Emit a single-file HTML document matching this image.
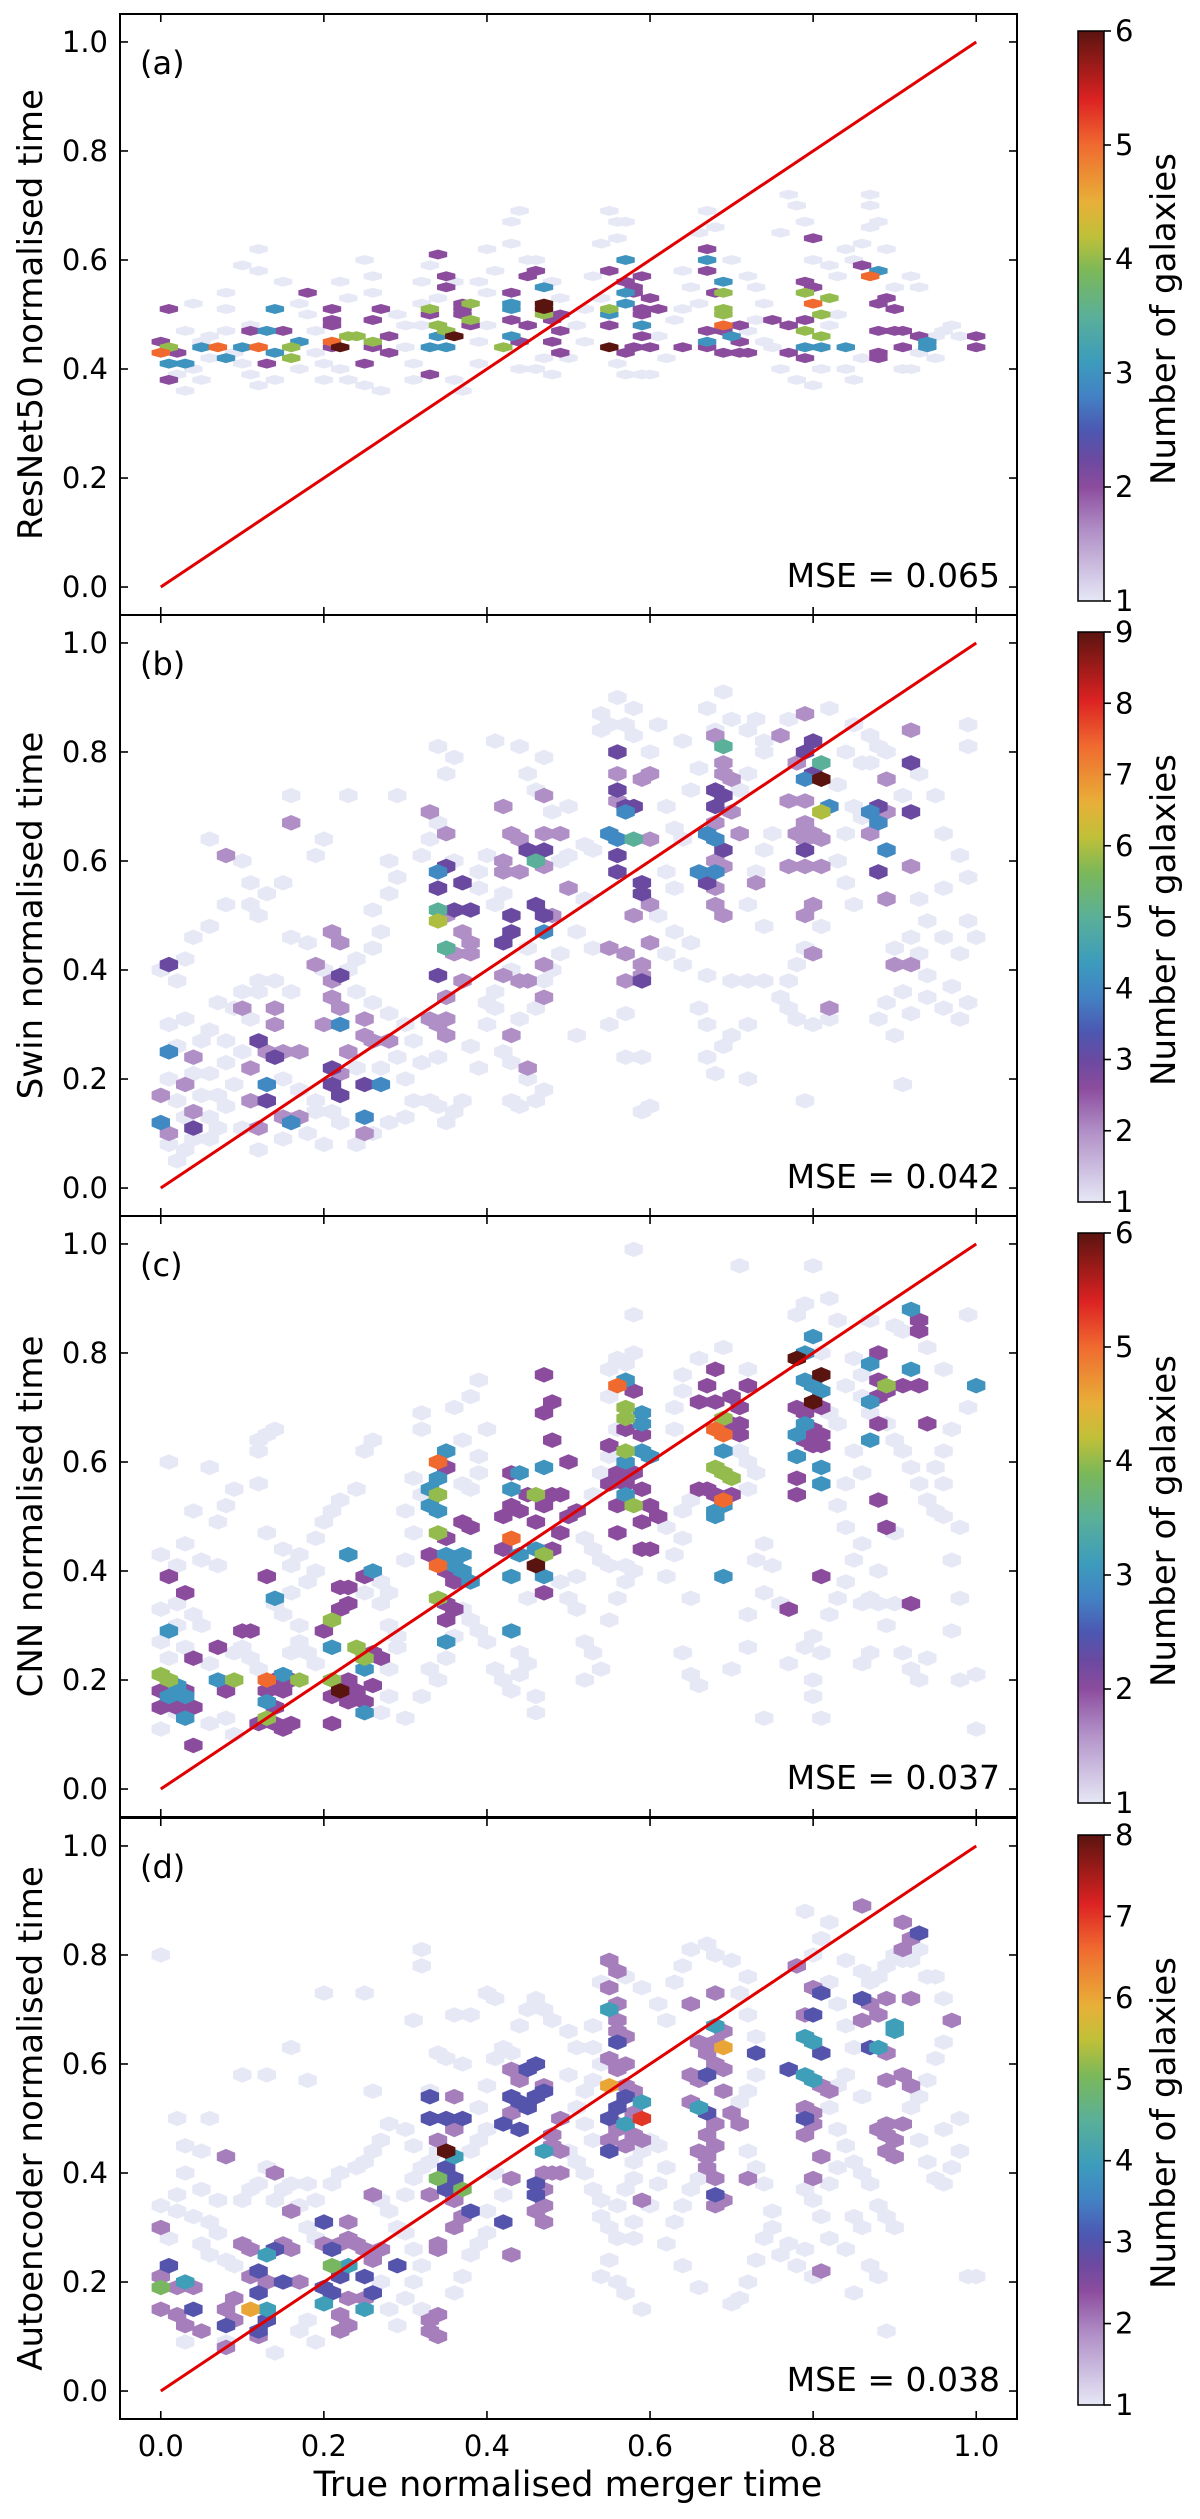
<!DOCTYPE html>
<html><head><meta charset="utf-8"><style>
html,body{margin:0;padding:0;background:#fff;}
svg{display:block;}
text{font-family:"DejaVu Sans","Liberation Sans",sans-serif;fill:#000;}
</style></head><body>
<svg id="fig" width="1200" height="2519" viewBox="0 0 1200 2519" xmlns="http://www.w3.org/2000/svg">
<defs>
<linearGradient id="cmap" x1="0" y1="1" x2="0" y2="0">
<stop offset="0" stop-color="#e6e8f6"/><stop offset="0.125" stop-color="#b08ec6"/><stop offset="0.2" stop-color="#8c4c9e"/>
<stop offset="0.25" stop-color="#6a4aa0"/><stop offset="0.3" stop-color="#4c58b2"/><stop offset="0.36" stop-color="#4282c4"/>
<stop offset="0.42" stop-color="#3c9cbc"/><stop offset="0.5" stop-color="#5ab098"/><stop offset="0.58" stop-color="#7cb858"/>
<stop offset="0.64" stop-color="#c0c038"/><stop offset="0.7" stop-color="#e8b038"/><stop offset="0.8" stop-color="#f06a30"/>
<stop offset="0.88" stop-color="#dc2222"/><stop offset="1" stop-color="#5a1410"/>
</linearGradient>
</defs>
</svg>
<script>
// ---- data ----
const panelLetters = ["(a)","(b)","(c)","(d)"];
const yLabels = ["ResNet50 normalised time","Swin normalised time","CNN normalised time","Autoencoder normalised time"];
const mseLabels = ["MSE = 0.065","MSE = 0.042","MSE = 0.037","MSE = 0.038"];
const cbarMax = [6,9,6,8];
const xTicks = [0,0.2,0.4,0.6,0.8,1.0];
const xTickLabels = ["0.0","0.2","0.4","0.6","0.8","1.0"];
const yTicks = [0,0.2,0.4,0.6,0.8,1.0];
const yTickLabels = ["0.0","0.2","0.4","0.6","0.8","1.0"];

// hex cells: "x,y,count" (count omitted = 1)
const hexA = `0.01,.51,2 0,.45,2 0,.43,5 .01,.44,4 .01,.41,3 .03,.41,3 .01,.38,2 .02,.43,2 .05,.44,3 .07,.44,5 .08,.42,3
.10,.44,3 .11,.47,2 .12,.44,5 .13,.47,3 .14,.51,3 .15,.47,2 .16,.44,4 .14,.43,3 .13,.41,2 .17,.45,3 .16,.42,4 .18,.54,2
.21,.51,2 .21,.49,2 .21,.48,2 .21,.45,5 .21,.44,2 .22,.44,6 .23,.46,4 .24,.46,4 .26,.45,4 .26,.44,2 .25,.41,2 .27,.51,2 .26,.49,2 .28,.46,2 .28,.43,2
.34,.61,2 .35,.57,2 .35,.55,2 .33,.51,4 .33,.50,2 .34,.48,4 .35,.47,4 .34,.46,3 .33,.44,3 .35,.44,3 .37,.52,2 .37,.51,2 .37,.50,2 .38,.52,4 .38,.49,4 .38,.48,2 .36,.46,6 .33,.39,2
.43,.54,2 .43,.52,3 .43,.51,3 .43,.49,2 .43,.46,3 .42,.44,4 .44,.45,2 .45,.57,2 .45,.48,2 .47,.55,3 .47,.52,6 .47,.51,6 .47,.50,4 .48,.49,2 .49,.50,2 .49,.47,2 .48,.45,2 .49,.43,2 .46,.58,2
.55,.58,2 .57,.60,3 .57,.54,3 .57,.52,3 .55,.51,4 .55,.50,3 .55,.48,2 .57,.56,2 .58,.55,2 .59,.57,2 .58,.54,2 .60,.53,2 .59,.51,2 .59,.50,2 .59,.48,3 .59,.46,2 .58,.44,2 .60,.44,2 .57,.43,2 .55,.44,6 .61,.51,2
.64,.44,2 .67,.62,2 .67,.60,3 .67,.58,2 .69,.56,3 .68,.54,2 .69,.54,4 .69,.51,4 .69,.50,4 .69,.48,5 .69,.47,2 .67,.47,2 .67,.45,3 .70,.46,3 .71,.45,2 .71,.48,2 .71,.43,2 .69,.43,2 .72,.43,2 .67,.44,2
.75,.49,2 .77,.48,2 .79,.56,2 .80,.64,2 .79,.54,4 .80,.55,2 .82,.53,4 .80,.52,5 .81,.50,4 .79,.49,2 .79,.47,4 .81,.46,4 .79,.44,3 .81,.44,3 .79,.42,2 .77,.43,2 .84,.44,3
.86,.59,2 .88,.58,3 .87,.57,5 .89,.53,2 .88,.52,2 .90,.51,2 .88,.47,2 .90,.47,2 .91,.47,2 .93,.46,2 .94,.45,3 .94,.44,3 .88,.43,2 .88,.42,2 .91,.44,2 1.0,.46,2 1.0,.44,2
.03,.47 .05,.45 .06,.42 .04,.40 .02,.39 .05,.38 .03,.36 .06,.46 .08,.47 .08,.51 .08,.54 .04,.52 .11,.48 .09,.43 .10,.41 .11,.39 .12,.37 .14,.38 .12,.58 .12,.62 .10,.59 .15,.56 .17,.52 .18,.50 .19,.47 .19,.43 .17,.40 .20,.41 .20,.38 .22,.40 .23,.38 .25,.37 .27,.36 .23,.53 .22,.56 .26,.54 .26,.57 .25,.60 .29,.50 .30,.48 .30,.44 .31,.41 .31,.38 .32,.52 .32,.48 .34,.53 .32,.56 .33,.59 .36,.56 .36,.38 .37,.36 .39,.41 .39,.45 .40,.48 .40,.54 .39,.56 .41,.58 .40,.62 .43,.67 .44,.69 .43,.63 .45,.60 .46,.60 .48,.56 .49,.53 .47,.42 .46,.40 .44,.40 .48,.39 .50,.42 .51,.48 .52,.51 .52,.45 .54,.63 .55,.69 .56,.67 .57,.67 .56,.64 .53,.57 .54,.53 .56,.41 .57,.39 .59,.39 .60,.39 .61,.46 .62,.42 .63,.49 .64,.51 .65,.55 .64,.58 .66,.52 .66,.65 .67,.69 .68,.66 .70,.60 .72,.57 .73,.55 .74,.52 .73,.49 .72,.47 .74,.45 .75,.44 .76,.40 .78,.38 .80,.37 .81,.40 .82,.48 .83,.50 .83,.57 .82,.59 .80,.60 .79,.67 .78,.70 .77,.72 .76,.65 .84,.62 .85,.60 .86,.63 .87,.66 .87,.70 .87,.72 .88,.67 .89,.62 .90,.55 .92,.57 .93,.55 .91,.40 .92,.40 .93,.43 .95,.46 .96,.47 .97,.48 .98,.46 .95,.42 .84,.40 .85,.38 .86,.42`;

const hexB = `.02,.05 .03,.07 .01,.08 .04,.09 .06,.09 .07,.11 .03,.13 .06,.13 .08,.15 .02,.16 .05,.17 .07,.17 .09,.19 .01,.20 .04,.21 .06,.21 .08,.23 .10,.25 .02,.26 .05,.27 .08,.27 .06,.29 .01,.30 .03,.31 .11,.31 .09,.33 .07,.34 .10,.36 .12,.36 .14,.38 .16,.36 .12,.38 .02,.38 .00,.40 .03,.42 .04,.46 .06,.48 .08,.52 .11,.52 .12,.50 .13,.54 .15,.56 .06,.64 .11,.56 .10,.60 .16,.72 .23,.72 .29,.72 .16,.46 .18,.45 .20,.40 .23,.40 .24,.42 .26,.44 .27,.47 .26,.51 .28,.54 .29,.57 .19,.61 .20,.64 .28,.60 .24,.36 .26,.34 .28,.32 .30,.30 .31,.27 .29,.24 .27,.22 .24,.22 .30,.20 .31,.16 .30,.13 .28,.12 .26,.10 .24,.08 .20,.08 .18,.10 .15,.09 .12,.07 .10,.11 .19,.14 .21,.14 .22,.12 .19,.16 .17,.18 .15,.20 .33,.16 .34,.15 .36,.14 .37,.16 .35,.12 .32,.23 .34,.24 .38,.26 .39,.22 .40,.30 .41,.33 .40,.34 .41,.36 .43,.40 .45,.44 .41,.52 .42,.54 .39,.55 .39,.58 .40,.61 .36,.60 .32,.61 .33,.64 .34,.67 .35,.76 .36,.79 .34,.81 .41,.82 .44,.81 .47,.79 .45,.76 .46,.73 .48,.69 .50,.70 .49,.60 .50,.61 .52,.63 .53,.62 .50,.55 .52,.53 .51,.47 .53,.44 .49,.43 .48,.40 .47,.38 .46,.33 .44,.31 .42,.25 .43,.23 .45,.20 .47,.18 .46,.16 .43,.16 .44,.15 .51,.28 .57,.24 .59,.24 .59,.14 .60,.15 .55,.30 .57,.32 .56,.90 .54,.87 .55,.85 .57,.85 .58,.88 .54,.84 .58,.83 .60,.80 .61,.85 .64,.82 .66,.77 .65,.73 .62,.70 .63,.66 .64,.64 .62,.58 .63,.55 .61,.50 .63,.47 .65,.45 .62,.43 .64,.41 .67,.39 .70,.38 .72,.38 .74,.38 .66,.33 .67,.30 .70,.28 .69,.26 .67,.24 .72,.30 .72,.20 .68,.21 .74,.48 .72,.52 .73,.58 .74,.62 .75,.65 .71,.73 .72,.76 .74,.80 .69,.91 .67,.88 .70,.86 .68,.84 .72,.84 .73,.86 .74,.82 .77,.86 .82,.88 .85,.85 .84,.80 .86,.78 .83,.74 .85,.70 .86,.68 .84,.65 .83,.60 .84,.56 .85,.52 .81,.48 .79,.44 .78,.41 .77,.38 .76,.35 .77,.33 .78,.31 .80,.30 .82,.31 .79,.16 .87,.83 .88,.81 .87,.78 .89,.80 .91,.72 .93,.76 .95,.72 .96,.65 .98,.61 .99,.57 .96,.55 .93,.53 .94,.49 .92,.46 .90,.44 .93,.43 .94,.39 .91,.36 .89,.34 .88,.31 .90,.28 .92,.32 .94,.35 .96,.33 .97,.37 .98,.43 .96,.46 1.0,.46 .99,.49 .98,.31 .99,.34 .91,.19 .99,.85 .99,.81
.01,.41,3 .01,.25,4 0,.12,4 .01,.10,2 .04,.11,3 0,.17,2 .04,.24,2 .03,.19,2 .04,.14,2 .08,.61,2 .16,.67,2 .10,.33,2 .14,.33,2 .12,.27,3 .14,.30,2 .13,.25,2 .15,.25,2 .17,.25,2 .14,.24,3 .11,.22,2 .13,.19,4 .11,.16,2 .13,.16,3 .15,.13,2 .17,.13,2 .16,.12,4 .12,.11,2
.19,.41,2 .22,.39,3 .21,.38,2 .21,.35,2 .22,.33,2 .21,.47,2 .22,.45,2 .20,.30,2 .22,.30,4 .21,.22,3 .22,.21,2 .21,.19,3 .22,.17,3 .25,.31,2 .25,.28,2 .26,.27,2 .23,.25,2 .28,.27,2 .25,.19,3 .27,.19,4 .25,.13,4 .25,.10,2
.33,.69,2 .35,.65,2 .35,.59,3 .34,.58,4 .37,.56,3 .34,.55,3 .34,.51,5 .36,.51,3 .38,.51,3 .35,.50,2 .34,.49,6 .37,.47,2 .38,.45,2 .35,.44,5 .36,.43,2 .38,.43,2 .34,.39,3 .37,.38,2 .35,.35,2 .33,.31,2 .35,.31,2 .34,.30,2 .35,.28,2
.42,.70,2 .47,.72,2 .43,.65,2 .44,.64,2 .47,.65,2 .49,.65,2 .45,.62,3 .47,.62,3 .46,.60,5 .42,.60,2 .47,.59,2 .42,.58,2 .44,.58,2 .50,.55,2 .43,.50,3 .46,.52,3 .47,.50,3 .48,.50,2 .42,.45,3 .43,.47,3 .47,.47,4 .42,.39,2 .44,.38,2 .45,.38,2 .47,.41,2 .47,.35,2 .43,.28,2 .45,.22,2
.56,.80,3 .56,.76,2 .59,.75,2 .60,.76,2 .56,.73,3 .56,.71,2 .57,.70,3 .58,.70,3 .57,.69,4 .55,.65,4 .56,.64,4 .58,.64,5 .60,.64,2 .56,.61,3 .56,.58,3 .59,.56,3 .59,.54,3 .60,.52,2 .58,.50,2 .60,.45,2 .55,.44,2 .57,.43,2 .59,.41,2 .59,.39,2 .57,.38,2 .59,.38,3
.68,.83,2 .69,.81,5 .69,.78,2 .69,.76,2 .70,.75,2 .68,.73,3 .69,.72,3 .68,.70,3 .70,.69,2 .68,.67,2 .71,.65,2 .67,.65,4 .68,.64,4 .69,.62,3 .68,.60,2 .69,.59,2 .66,.58,4 .68,.58,4 .67,.56,3 .68,.55,2 .73,.56,2 .68,.52,2 .69,.50,2
.76,.83,2 .79,.87,2 .79,.80,3 .80,.82,3 .78,.78,2 .81,.78,5 .80,.76,3 .79,.75,4 .81,.75,9 .77,.71,2 .79,.71,2 .82,.70,4 .81,.69,6 .79,.67,2 .78,.65,2 .80,.65,2 .79,.64,2 .81,.64,2 .79,.62,3 .77,.59,2 .79,.59,2 .81,.59,2 .80,.52,2 .79,.50,2 .80,.43,2 .82,.33,2
.92,.84,2 .92,.78,3 .89,.75,2 .88,.70,3 .89,.69,2 .92,.69,3 .87,.69,4 .88,.67,4 .87,.65,2 .89,.62,4 .92,.59,2 .88,.58,3 .89,.53,2 .90,.41,2 .92,.41,2`;

const hexC = `.01,.60 .06,.59 .07,.49 .04,.51 .08,.52 .09,.55 .13,.47 .15,.44 .12,.56 .12,.62 .12,.64 .13,.65 .14,.66 .00,.43 .02,.41 .03,.45 .05,.42 .07,.41 .02,.34 .00,.33 .04,.32 .05,.30 .02,.30 .00,.27 .03,.26 .06,.23 .01,.24 .02,.14 .00,.11 .06,.12 .08,.13 .09,.10 .09,.25 .10,.26 .11,.24 .12,.22 .16,.25 .17,.27 .18,.25 .19,.23 .17,.30 .15,.32 .14,.34 .16,.36 .18,.38 .19,.40 .16,.41 .17,.43 .19,.46 .20,.49 .21,.51 .22,.53 .24,.55 .25,.62 .26,.64 .25,.36 .27,.38 .27,.34 .28,.36 .28,.30 .29,.28 .29,.26 .28,.22 .28,.17 .27,.14 .30,.13 .30,.42 .31,.47 .30,.51 .32,.54 .31,.57 .32,.66 .32,.69 .37,.56 .38,.55 .39,.58 .39,.61 .37,.64 .36,.70 .38,.72 .39,.75 .40,.66 .37,.33 .38,.31 .39,.29 .40,.27 .36,.28 .35,.24 .33,.22 .34,.20 .32,.17 .41,.22 .42,.20 .43,.18 .44,.21 .44,.25 .45,.23 .46,.17 .46,.14 .45,.35 .49,.38 .51,.39 .50,.35 .51,.33 .52,.27 .53,.25 .54,.22 .52,.20 .55,.31 .56,.35 .57,.38 .55,.41 .57,.41 .58,.40 .54,.42 .53,.44 .52,.46 .53,.54 .54,.58 .55,.61 .56,.66 .55,.72 .55,.77 .56,.79 .57,.78 .58,.80 .58,.87 .62,.48 .63,.43 .62,.39 .65,.35 .64,.25 .65,.21 .66,.19 .64,.46 .64,.51 .65,.53 .63,.66 .63,.70 .64,.73 .64,.76 .66,.79 .69,.81 .72,.77 .71,.62 .72,.60 .73,.58 .72,.55 .74,.45 .73,.42 .75,.41 .74,.36 .72,.32 .72,.26 .70,.22 .74,.13 .77,.23 .79,.26 .80,.28 .81,.25 .80,.20 .80,.17 .81,.13 .76,.34 .82,.32 .83,.35 .84,.38 .85,.42 .86,.45 .84,.48 .83,.52 .84,.56 .86,.58 .85,.62 .83,.67 .82,.69 .81,.80 .78,.87 .79,.89 .82,.90 .83,.86 .85,.79 .86,.76 .84,.74 .86,.72 .87,.69 .89,.67 .90,.64 .91,.62 .92,.59 .93,.56 .94,.53 .95,.51 .96,.50 .90,.47 .88,.40 .87,.35 .86,.34 .88,.34 .90,.34 .89,.30 .87,.25 .86,.23 .91,.25 .92,.22 .93,.20 .94,.24 .97,.29 .98,.35 .97,.42 .98,.48 .96,.56 .95,.59 .96,.62 .97,.66 .99,.70 .99,.87 .94,.81 .96,.77 .91,.84 .90,.85 .87,.86 .80,.96 1.0,.21 1.0,.11 .98,.20 .58,.99 .71,.96
.01,.39,2 .03,.36,2 .01,.29,3 0,.21,4 .01,.20,4 .02,.19,3 0,.18,2 .03,.18,2 .01,.17,3 .03,.17,3 0,.15,2 .02,.15,2 .04,.15,2 .03,.13,3 .04,.08,2 .04,.24,2 .07,.26,2 .07,.20,3 .09,.20,4 .08,.18,2 .10,.29,2 .11,.29,2 .13,.39,2 .14,.35,3
.13,.20,5 .14,.20,2 .15,.21,3 .16,.20,2 .17,.20,4 .13,.18,2 .15,.18,2 .13,.16,3 .14,.15,2 .13,.13,4 .12,.12,2 .14,.12,2 .15,.11,2 .16,.12,2
.20,.29,2 .21,.31,4 .22,.33,2 .23,.34,2 .23,.37,2 .26,.40,3 .25,.39,2 .22,.37,2 .21,.26,3 .23,.43,3 .21,.20,4 .22,.18,6 .24,.18,2 .23,.20,2 .21,.17,2 .23,.16,2 .25,.16,2 .21,.12,2 .25,.24,4 .25,.22,3 .26,.19,2 .25,.14,3 .26,.25,2 .27,.24,2 .24,.26,4
.35,.62,3 .34,.60,5 .35,.59,2 .34,.57,3 .33,.55,3 .34,.54,4 .33,.52,3 .34,.51,3 .37,.49,2 .38,.48,2 .34,.47,4 .35,.46,2 .33,.43,2 .35,.43,3 .37,.43,3 .34,.41,5 .36,.41,3 .35,.40,2 .37,.40,3 .38,.38,3 .36,.38,2 .34,.35,4 .35,.34,2 .36,.33,2 .35,.31,2 .35,.27,3 .43,.29,3
.47,.76,2 .48,.71,2 .47,.69,2 .48,.64,2 .44,.58,3 .47,.59,3 .50,.60,2 .43,.58,2 .43,.55,3 .45,.54,2 .46,.54,4 .48,.54,2 .49,.54,2 .43,.52,2 .44,.51,2 .47,.52,2 .42,.50,2 .46,.49,2 .50,.50,2 .51,.51,2 .49,.47,2 .43,.46,5 .42,.44,2 .44,.43,3 .46,.44,3 .48,.44,2 .47,.43,4 .46,.41,6 .47,.39,3 .43,.39,3 .47,.36,2
.57,.75,3 .56,.74,5 .58,.73,2 .57,.70,4 .59,.69,3 .57,.68,4 .59,.67,3 .57,.66,2 .59,.65,2 .55,.63,2 .57,.62,4 .59,.62,3 .57,.60,3 .60,.61,3 .56,.58,2 .58,.58,2 .55,.56,2 .57,.56,2 .59,.55,2 .57,.54,3 .56,.52,2 .58,.52,4 .60,.52,2 .61,.50,2 .59,.49,2 .56,.47,2 .59,.44,2 .60,.44,2
.68,.77,2 .67,.74,2 .72,.74,2 .66,.71,2 .68,.71,2 .70,.72,2 .71,.70,2 .69,.68,4 .71,.67,2 .68,.66,5 .69,.65,5 .70,.67,2 .71,.65,2 .69,.62,3 .68,.59,4 .69,.58,4 .70,.57,4 .66,.55,2 .67,.55,2 .68,.54,2 .70,.54,2 .69,.53,5 .69,.52,3 .68,.51,3 .68,.50,3 .69,.39,3
.80,.83,3 .79,.80,3 .78,.79,6 .81,.76,6 .79,.75,3 .80,.74,3 .81,.73,3 .80,.71,6 .78,.70,2 .79,.69,2 .81,.70,2 .79,.67,3 .80,.66,2 .81,.65,2 .78,.65,3 .79,.64,2 .80,.63,2 .81,.63,2 .78,.61,3 .81,.59,3 .78,.57,2 .81,.56,3 .78,.54,2 .81,.39,2 .77,.33,2
.92,.88,3 .93,.86,2 .93,.84,2 .88,.80,2 .87,.78,3 .92,.77,3 .88,.75,2 .89,.73,2 .91,.74,2 .93,.74,2 .89,.74,4 .88,.72,2 .87,.71,3 .88,.67,2 .94,.67,2 .87,.64,3 .88,.53,2 .89,.48,2 .92,.34,2 1.0,.74,3`;

const hexD = `.00,.80 .32,.78 .32,.81 .20,.73 .25,.73 .16,.63 .10,.58 .13,.58 .18,.57 .26,.55 .31,.68 .34,.62 .35,.61 .36,.69 .38,.69 .40,.73 .41,.72 .37,.60 .33,.55 .30,.48 .28,.49 .27,.46 .26,.44 .25,.42 .24,.41 .22,.40 .21,.38 .02,.50 .06,.50 .03,.45 .05,.44 .02,.36 .00,.34 .02,.33 .04,.32 .06,.31 .01,.28 .05,.27 .07,.29 .06,.25 .08,.24 .09,.23 .10,.35 .11,.37 .12,.38 .13,.41 .14,.35 .15,.37 .16,.38 .18,.38 .19,.35 .17,.34 .18,.30 .19,.28 .07,.35 .05,.37 .03,.40 .03,.09 .08,.09 .14,.07 .17,.11 .18,.13 .19,.09 .27,.20 .28,.15 .29,.12 .30,.17 .31,.20 .32,.23 .31,.26 .29,.30 .28,.33 .27,.35 .30,.36 .31,.39 .32,.41 .33,.42 .34,.44 .31,.45 .30,.29 .32,.15 .36,.18 .37,.21 .38,.25 .39,.27 .40,.29 .40,.33 .42,.36 .41,.40 .38,.44 .39,.46 .40,.48 .39,.52 .40,.56 .41,.61 .42,.63 .43,.62 .44,.67 .45,.70 .46,.72 .47,.70 .48,.68 .50,.66 .51,.63 .50,.58 .52,.55 .51,.52 .52,.49 .53,.46 .50,.44 .51,.42 .52,.40 .53,.37 .54,.35 .54,.32 .55,.30 .56,.34 .57,.37 .58,.39 .58,.42 .59,.44 .60,.46 .61,.45 .62,.41 .61,.38 .60,.34 .58,.31 .56,.28 .55,.24 .54,.21 .56,.20 .57,.18 .59,.15 .58,.28 .53,.57 .54,.60 .53,.63 .53,.67 .54,.75 .57,.76 .59,.74 .61,.71 .62,.68 .63,.75 .64,.78 .65,.81 .67,.82 .68,.80 .70,.79 .72,.76 .71,.73 .72,.69 .73,.65 .73,.58 .72,.55 .71,.53 .72,.44 .73,.41 .74,.38 .75,.33 .74,.28 .73,.24 .72,.20 .71,.17 .70,.16 .66,.19 .64,.23 .62,.27 .63,.31 .64,.34 .65,.37 .66,.39 .75,.30 .77,.27 .79,.26 .76,.25 .78,.23 .80,.21 .82,.28 .81,.32 .80,.35 .79,.37 .82,.38 .83,.41 .84,.45 .83,.48 .82,.52 .83,.56 .84,.58 .85,.63 .84,.67 .83,.71 .82,.75 .80,.80 .81,.83 .82,.86 .79,.88 .84,.79 .86,.77 .87,.75 .88,.76 .89,.78 .90,.80 .91,.79 .92,.79 .93,.81 .94,.76 .95,.76 .96,.72 .97,.68 .96,.64 .95,.61 .94,.57 .93,.54 .92,.52 .93,.46 .94,.42 .95,.39 .96,.38 .97,.41 .98,.44 .98,.50 .96,.48 .86,.54 .85,.42 .86,.40 .87,.38 .88,.34 .89,.32 .90,.30 .86,.30 .85,.32 .84,.26 .87,.23 .88,.21 .85,.18 .99,.21 1.0,.21 .89,.11
0,.30,2 .01,.23,3 0,.21,2 .03,.20,4 0,.19,5 .02,.19,2 .04,.19,2 0,.15,2 .02,.14,2 .04,.15,3 .03,.12,2 .05,.11,2 .08,.15,2 .09,.17,2 .08,.12,3 .09,.13,2 .08,.08,2 .08,.43,2
.10,.27,2 .11,.26,2 .12,.22,3 .13,.25,4 .14,.26,3 .15,.27,2 .16,.26,2 .11,.21,2 .13,.20,2 .15,.20,3 .17,.20,2 .12,.18,3 .11,.15,6 .13,.15,4 .12,.11,3 .13,.13,3 .14,.40,2 .16,.33,2 .12,.10,2
.20,.31,3 .21,.23,5 .23,.23,4 .22,.21,3 .25,.21,3 .20,.19,3 .21,.18,3 .23,.17,2 .25,.17,2 .26,.18,3 .20,.16,4 .22,.14,2 .25,.15,4 .23,.28,2 .24,.27,2 .21,.26,3 .22,.27,2 .25,.26,2 .27,.26,2 .26,.24,2 .29,.23,3 .23,.12,2 .22,.11,2 .33,.11,2 .34,.10,2 .26,.36,2 .23,.31,2 .20,.27,2
.33,.54,3 .36,.54,2 .33,.50,3 .35,.50,3 .37,.50,3 .36,.48,2 .34,.46,2 .35,.44,8 .36,.43,4 .35,.41,3 .36,.39,3 .34,.39,5 .35,.37,3 .37,.37,5 .36,.35,2 .33,.36,2 .37,.32,2 .38,.33,3 .36,.30,2 .34,.27,2 .34,.26,2 .33,.13,2 .34,.14,2
.43,.59,2 .45,.59,3 .46,.60,3 .44,.57,2 .47,.56,2 .43,.54,3 .44,.53,3 .45,.52,3 .46,.54,3 .47,.55,3 .42,.49,3 .43,.51,2 .44,.48,3 .49,.50,2 .48,.47,2 .48,.45,2 .47,.44,4 .49,.44,2 .49,.40,2 .48,.40,2 .46,.38,3 .47,.37,2 .43,.39,2 .46,.36,3 .47,.34,2 .46,.33,2 .42,.31,3 .47,.31,2 .43,.25,2 .47,.40,2
.55,.79,2 .56,.77,2 .55,.74,2 .56,.71,2 .56,.68,2 .55,.70,4 .56,.66,2 .56,.64,3 .57,.65,2 .55,.61,2 .57,.60,2 .56,.59,2 .55,.56,6 .57,.56,2 .58,.55,2 .59,.53,4 .57,.54,3 .56,.52,3 .58,.51,2 .55,.50,3 .56,.49,2 .59,.50,7 .57,.49,4 .56,.48,2 .58,.47,2 .59,.46,2 .55,.46,2 .57,.45,2 .55,.44,3 .59,.35,2
.65,.71,2 .68,.73,2 .68,.67,4 .69,.66,2 .66,.64,2 .68,.64,2 .69,.63,6 .67,.62,2 .68,.60,2 .69,.59,2 .67,.58,3 .65,.58,2 .66,.57,2 .69,.55,2 .65,.53,2 .66,.52,4 .67,.51,3 .68,.49,2 .67,.47,2 .68,.45,2 .66,.44,2 .67,.43,2 .67,.41,2 .68,.39,2 .70,.51,2 .68,.36,3 .69,.35,2 .72,.39,2 .71,.49,2 .68,.34,2 .73,.62,3
.78,.78,2 .80,.74,2 .81,.73,3 .79,.69,2 .80,.69,3 .79,.65,4 .80,.64,4 .81,.62,3 .77,.59,3 .79,.58,4 .80,.57,4 .81,.56,2 .82,.55,2 .79,.52,2 .80,.51,2 .79,.50,3 .80,.49,2 .79,.47,2 .81,.43,2 .80,.39,2 .81,.22,2
.86,.89,2 .91,.86,2 .92,.83,2 .93,.84,3 .91,.81,2 .86,.72,3 .87,.71,2 .89,.72,2 .88,.69,2 .86,.68,2 .92,.72,2 .90,.67,4 .88,.63,4 .87,.63,3 .89,.62,2 .90,.66,4 .89,.57,2 .91,.58,2 .92,.56,2 .89,.49,2 .91,.49,2 .88,.48,2 .89,.47,2 .90,.46,2 .89,.44,2 .90,.43,2 .97,.68,2`;

const hexSets = [hexA, hexB, hexC, hexD];

// ---- layout ----
const NS = "http://www.w3.org/2000/svg";
const svg = document.getElementById("fig");
const L = 120, R = 1017, PH = 601;
const tops = [14, 615, 1216, 1818];
const XMIN = -0.05, XMAX = 1.05, YMIN = -0.0513, YMAX = 1.0513;
const xs = v => L + (v - XMIN) / (XMAX - XMIN) * (R - L);
const ysF = top => v => top + PH - (v - YMIN) / (YMAX - YMIN) * PH;
const hexR = [5, 7.8, 7.8, 7.8];
const HW = 9.2;

const cstops = [[0,[230,232,246]],[0.125,[176,142,198]],[0.2,[140,76,158]],[0.25,[106,74,160]],[0.3,[76,88,178]],[0.36,[66,130,196]],[0.42,[60,156,188]],[0.5,[90,176,152]],[0.58,[124,184,88]],[0.64,[192,192,56]],[0.7,[232,176,56]],[0.8,[240,106,48]],[0.88,[220,34,34]],[1,[90,20,16]]];
function cmap(t){
  t = Math.max(0, Math.min(1, t));
  for (let i = 1; i < cstops.length; i++) {
    if (t <= cstops[i][0]) {
      const a = cstops[i-1], b = cstops[i], f = (t - a[0]) / (b[0] - a[0]);
      const c = a[1].map((v, k) => Math.round(v + (b[1][k] - v) * f));
      return `rgb(${c[0]},${c[1]},${c[2]})`;
    }
  }
  return "rgb(90,20,16)";
}
function mk(tag, attrs, parent){
  const e = document.createElementNS(NS, tag);
  for (const k in attrs) e.setAttribute(k, attrs[k]);
  (parent || svg).appendChild(e);
  return e;
}
function txt(str, attrs, parent){
  const e = mk("text", attrs, parent);
  e.textContent = str;
  return e;
}

for (let p = 0; p < 4; p++) {
  const top = tops[p], ys = ysF(top), bot = top + PH;
  const g = mk("g", {});
  
  

  const hg = mk("g", {}, g);
  
  
  const r = hexR[p];
  const cells = hexSets[p].trim().split(/\s+/).map(s => s.split(",").map(Number));
  cells.sort((a, b) => (a[2] || 1) - (b[2] || 1));
  for (const c of cells) {
    const cx = xs(c[0]), cy = ys(c[1]), n = c[2] || 1;
    const pts = [[0,-r],[HW,-r/2],[HW,r/2],[0,r],[-HW,r/2],[-HW,-r/2]].map(q => (cx+q[0]).toFixed(1)+","+(cy+q[1]).toFixed(1)).join(" ");
    const h = mk("polygon", {points: pts, fill: cmap((n-1)/(cbarMax[p]-1))}, hg);
    
    
  }

  const line = mk("line", {x1: xs(0), y1: ys(0), x2: xs(1), y2: ys(1), stroke: "#e00000", "stroke-width": 3}, g);
  
  

  const fr = mk("rect", {x: L, y: top, width: R-L, height: PH, fill: "none", stroke: "#000", "stroke-width": 2}, g);
  
  

  for (let i = 0; i < xTicks.length; i++) {
    const x = xs(xTicks[i]);
    const t1 = mk("line", {x1: x, y1: bot, x2: x, y2: bot-8, stroke: "#000", "stroke-width": 1.6}, g);
    
    
    const t2 = mk("line", {x1: x, y1: top, x2: x, y2: top+8, stroke: "#000", "stroke-width": 1.6}, g);
    
    
    if (p === 3) {
      const tl = txt(xTickLabels[i], {x: x, y: 2456, "font-size": 29, "text-anchor": "middle"}, g);
      
      
    }
  }
  for (let i = 0; i < yTicks.length; i++) {
    const y = ys(yTicks[i]);
    const t1 = mk("line", {x1: L, y1: y, x2: L+8, y2: y, stroke: "#000", "stroke-width": 1.6}, g);
    
    
    const t2 = mk("line", {x1: R, y1: y, x2: R-8, y2: y, stroke: "#000", "stroke-width": 1.6}, g);
    
    
    const tl = txt(yTickLabels[i], {x: 108, y: y+10, "font-size": 29, "text-anchor": "end"}, g);
    
    
  }

  const letter = txt(panelLetters[p], {x: 140, y: top+60, "font-size": 32}, g);
  
  
  const mse = txt(mseLabels[p], {x: 1000, y: top+573, "font-size": 33, "text-anchor": "end"}, g);
  
  
  const yl = txt(yLabels[p], {x: 0, y: 0, "font-size": 34, "text-anchor": "middle", transform: `translate(42,${top+PH/2}) rotate(-90)`}, g);
  
  

  const cbTop = top + 17, cbH = 570, cbX = 1078, cbW = 26;
  const cb = mk("rect", {x: cbX, y: cbTop, width: cbW, height: cbH, fill: "url(#cmap)", stroke: "#000", "stroke-width": 1.5}, g);
  
  
  for (let v = 1; v <= cbarMax[p]; v++) {
    const y = cbTop + cbH - (v-1)/(cbarMax[p]-1)*cbH;
    const t = mk("line", {x1: cbX+cbW, y1: y, x2: cbX+cbW+7, y2: y, stroke: "#000", "stroke-width": 1.6}, g);
    
    
    const tl = txt(String(v), {x: 1115, y: y+10, "font-size": 29}, g);
    
    
  }
  const cl = txt("Number of galaxies", {x: 0, y: 0, "font-size": 34, "text-anchor": "middle", transform: `translate(1175,${top+305}) rotate(-90)`}, g);
  
  
}
const xl = txt("True normalised merger time", {x: 568, y: 2496, "font-size": 35, "text-anchor": "middle"});


</script>
</body></html>
